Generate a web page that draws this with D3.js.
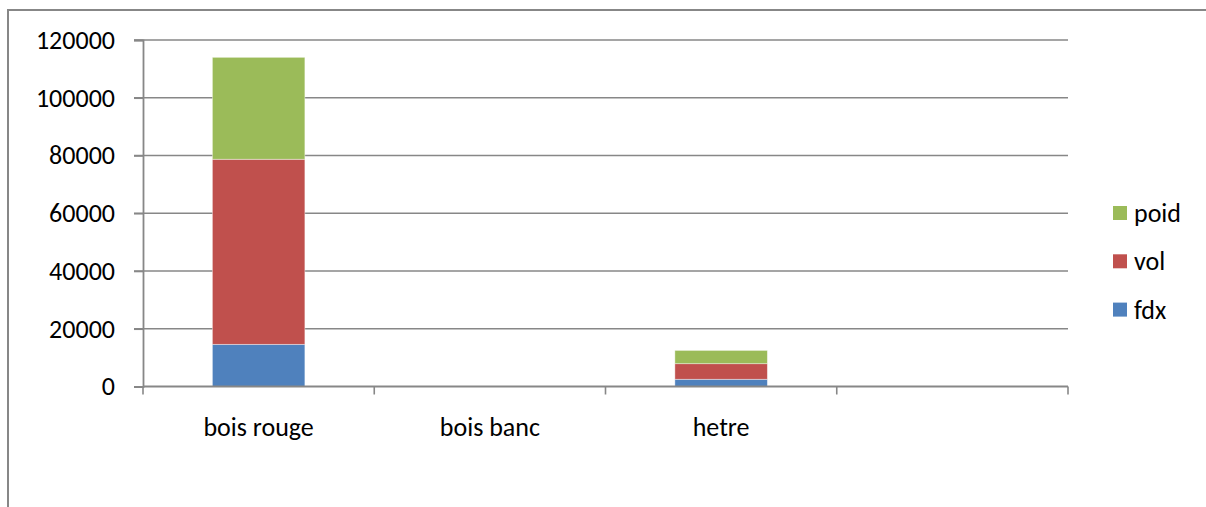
<!DOCTYPE html>
<html>
<head>
<meta charset="utf-8">
<script src="https://cdn.jsdelivr.net/npm/d3@7/dist/d3.min.js"></script>
<style>
  html, body { margin: 0; padding: 0; background: #fff; overflow: hidden; }
  svg { display: block; overflow: hidden; }
  text { font-family: Carlito, "Liberation Sans", Arial, sans-serif; fill: #000; }
</style>
</head>
<body>
<svg id="chart" width="1206" height="507"></svg>
<script>
// Wood types and the three stacked measures
const categories = ["bois rouge", "bois banc", "hetre", ""];
const fdx  = [14600, 0, 2500, 0];
const vol  = [64100, 0, 5400, 0];
const poid = [35300, 0, 4600, 0];
const seriesNames = ["fdx", "vol", "poid"];
const seriesColors = ["#4F81BD", "#C0504D", "#9BBB59"];
const yTicks = [0, 20000, 40000, 60000, 80000, 100000, 120000];

const svg = d3.select("#chart");
const W = 1206, H = 507;
const plot = { left: 143, right: 1068, top: 40, bottom: 386.5 };
const fontSize = 26;
const axisColor = "#878787";

// outer chart frame (runs off the right and bottom edges)
svg.append("rect")
  .attr("x", 8).attr("y", 10)
  .attr("width", W + 40).attr("height", H + 40)
  .attr("fill", "none").attr("stroke", axisColor).attr("stroke-width", 2);

const rows = categories.map((c, i) => ({ cat: c, idx: i, fdx: fdx[i], vol: vol[i], poid: poid[i] }));
const stack = d3.stack().keys(seriesNames)(rows);

const x = d3.scaleBand().domain(d3.range(categories.length))
  .range([plot.left, plot.right]).paddingInner(0).paddingOuter(0);
const y = d3.scaleLinear().domain([0, 120000]).range([plot.bottom, plot.top]);

// horizontal gridlines
svg.append("g").selectAll("line").data(yTicks.slice(1)).join("line")
  .attr("x1", plot.left - 9).attr("x2", plot.right)
  .attr("y1", d => y(d)).attr("y2", d => y(d))
  .attr("stroke", axisColor).attr("stroke-width", 1.6);

// y axis
const yAxis = svg.append("g").attr("transform", `translate(${plot.left},0)`)
  .call(d3.axisLeft(y).tickValues(yTicks).tickFormat(d3.format("d")).tickSizeOuter(0).tickSize(9).tickPadding(19));
yAxis.select(".domain").attr("stroke", axisColor).attr("stroke-width", 1.8);
yAxis.selectAll(".tick line").attr("stroke", axisColor).attr("stroke-width", 1.6);
yAxis.selectAll(".tick text").attr("font-size", fontSize).style("font-family", null).attr("fill", "#000");

// stacked bars: bar width = band / (1 + 1.5 gap)
const barW = x.bandwidth() / 2.5;
svg.append("g").selectAll("g").data(stack).join("g")
  .attr("fill", (d, i) => seriesColors[i])
  .selectAll("rect").data(d => d.filter(s => s[1] > s[0])).join("rect")
  .attr("x", d => x(d.data.idx) + (x.bandwidth() - barW) / 2)
  .attr("width", barW)
  .attr("y", d => y(d[1]))
  .attr("height", d => y(d[0]) - y(d[1]))
  .attr("stroke", "rgba(255,255,255,0.5)").attr("stroke-width", 0.8);

// x axis with ticks between categories
const xBounds = d3.range(categories.length + 1).map(i => plot.left + i * x.bandwidth());
const xAxis = svg.append("g");
xAxis.append("line")
  .attr("x1", plot.left).attr("x2", plot.right)
  .attr("y1", y(0)).attr("y2", y(0))
  .attr("stroke", axisColor).attr("stroke-width", 1.8);
xAxis.selectAll("line.tick").data(xBounds).join("line").attr("class", "tick")
  .attr("x1", d => d).attr("x2", d => d)
  .attr("y1", y(0)).attr("y2", y(0) + 8)
  .attr("stroke", axisColor).attr("stroke-width", 1.6);
xAxis.selectAll("text").data(categories).join("text")
  .attr("x", (d, i) => x(i) + x.bandwidth() / 2)
  .attr("y", 436)
  .attr("text-anchor", "middle")
  .attr("font-size", fontSize)
  .text(d => d);

// legend, top to bottom: poid, vol, fdx
const legendItems = seriesNames.map((n, i) => ({ name: n, color: seriesColors[i] })).reverse();
const legend = svg.append("g").selectAll("g").data(legendItems).join("g")
  .attr("transform", (d, i) => `translate(1113, ${206 + i * 48.3})`);
legend.append("rect").attr("width", 14).attr("height", 14).attr("fill", d => d.color);
legend.append("text").attr("x", 21).attr("y", 7).attr("dy", "0.35em")
  .attr("font-size", fontSize).text(d => d.name);
</script>
</body>
</html>
